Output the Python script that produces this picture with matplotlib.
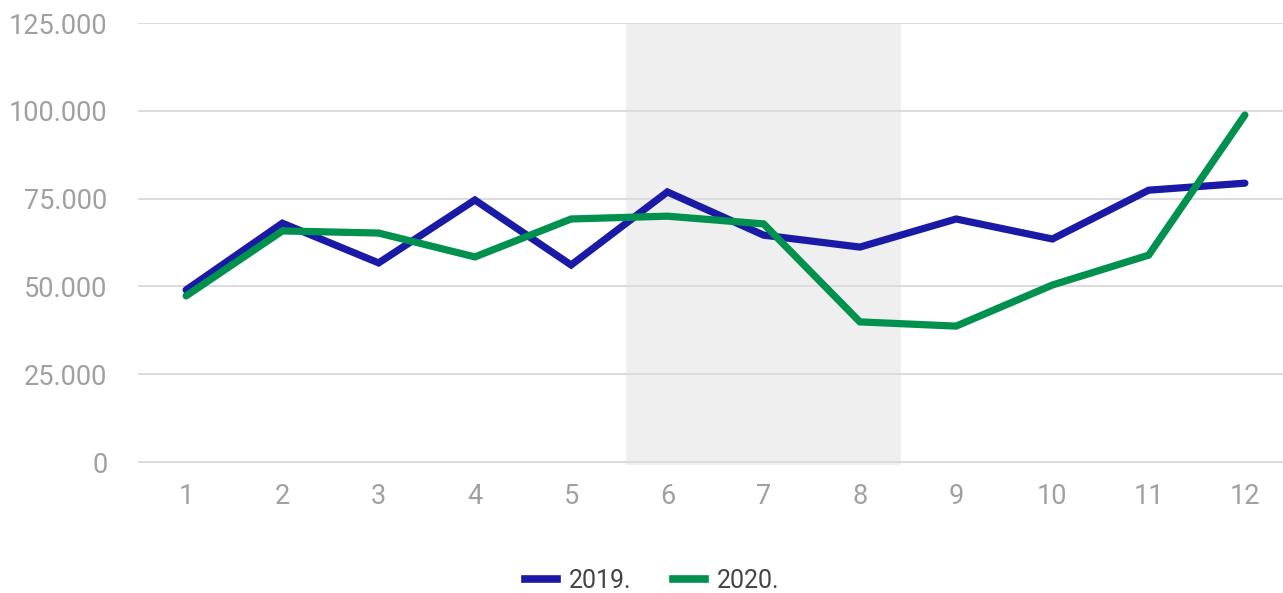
import matplotlib
matplotlib.use("Agg")
import matplotlib.pyplot as plt
from matplotlib.lines import Line2D

months = [1, 2, 3, 4, 5, 6, 7, 8, 9, 10, 11, 12]
series_2019 = [49000, 68000, 56700, 74600, 56100, 76900, 64600, 61200, 69200, 63500, 77400, 79400]
series_2020 = [47300, 65800, 65200, 58400, 69200, 70000, 67800, 39900, 38700, 50400, 58900, 98800]
yticks = [0, 25000, 50000, 75000, 100000, 125000]
legend_labels = ["2019.", "2020."]
shade_range = (5.57, 8.43)

c19 = "#1a1aa6"
c20 = "#00914f"

W, H = 1283, 593
fig = plt.figure(figsize=(W / 100, H / 100), dpi=100)
ax_left, ax_right, ax_top, ax_bot = 138, 1293, 23, 464.5
ax = fig.add_axes([ax_left / W, (H - ax_bot) / H, (ax_right - ax_left) / W, (ax_bot - ax_top) / H])

ax.set_xlim(0.5, 12.5)
ax.set_ylim(-700, 125000)

ax.axvspan(shade_range[0], shade_range[1], color="#efefef", zorder=0, lw=0)
for t in yticks:
    ax.axhline(t, color="#dcdcdc", lw=1.4, zorder=1)

ax.plot(months, series_2019, color=c19, lw=5.2, solid_capstyle="round", solid_joinstyle="miter", zorder=3)
ax.plot(months, series_2020, color=c20, lw=5.2, solid_capstyle="round", solid_joinstyle="miter", zorder=4)

for s in ax.spines.values():
    s.set_visible(False)
ax.set_xticks(months)
ax.set_xticklabels([str(m) for m in months])
ax.set_yticks(yticks)
ax.set_yticklabels([f"{t:,}".replace(",", ".") for t in yticks])
ax.tick_params(axis="both", length=0, colors="#a0a0a0", labelsize=19.5)
ax.tick_params(axis="y", pad=22)
ax.tick_params(axis="x", pad=13)
for lab in ax.get_xticklabels() + ax.get_yticklabels():
    lab.set_fontfamily("Roboto")

handles = [Line2D([0], [0], color=c19, lw=5.5), Line2D([0], [0], color=c20, lw=5.5)]
leg = fig.legend(handles, legend_labels, loc="center", bbox_to_anchor=(652 / W, (H - 581) / H),
                 ncol=2, frameon=False, handlelength=1.28, handletextpad=0.48, columnspacing=1.64,
                 prop={"family": "Roboto", "size": 18})
for t in leg.get_texts():
    t.set_color("#444444")

fig.savefig("out.png", dpi=100)
